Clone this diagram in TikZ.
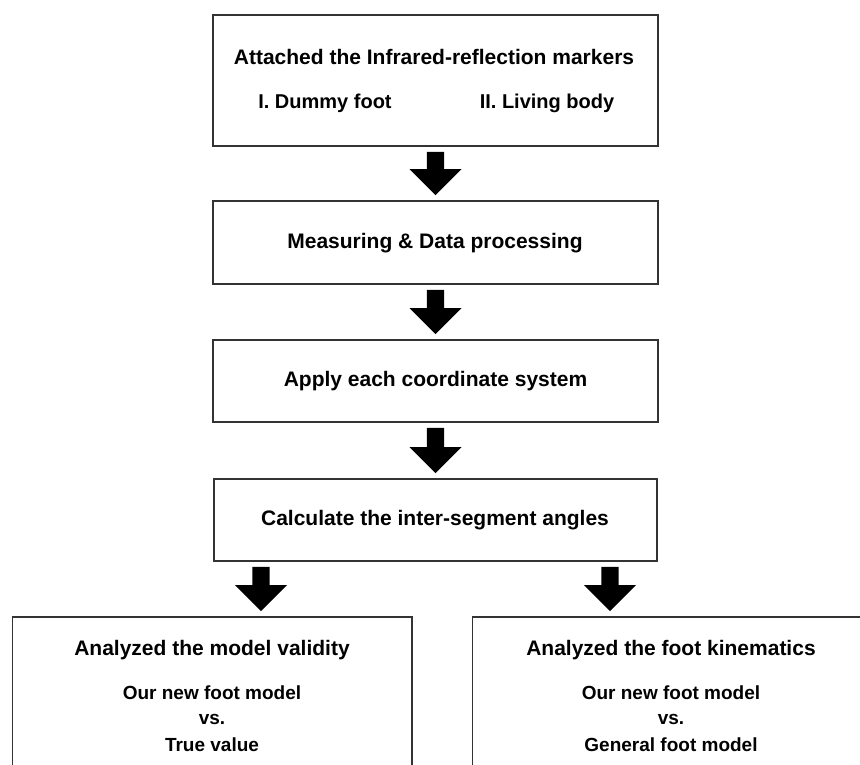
\documentclass[tikz,border=0pt]{standalone}
\usepackage{fontspec}
\setmainfont{Liberation Sans}
\usetikzlibrary{calc}
\tikzset{
  stepbox/.style={draw=black!80, line width=1.6pt, rectangle, inner sep=0pt, fill=none},
  big/.style={font=\bfseries\fontsize{21}{25}\selectfont, inner sep=0pt},
  mid/.style={font=\bfseries\fontsize{20}{24}\selectfont, inner sep=0pt},
  small/.style={font=\bfseries\fontsize{19}{23}\selectfont, inner sep=0pt},
  barrow/.style={fill=black, draw=none, to path={
    let \p1=(\tikztostart), \p2=(\tikztotarget) in
    (\x1-8.7pt,\y1-5pt) -- (\x1+8.7pt,\y1-5pt) -- (\x1+8.7pt,\y2+31pt) --
    (\x1+26pt,\y2+31pt) -- (\x1,\y2+5pt) -- (\x1-26pt,\y2+31pt) --
    (\x1-8.7pt,\y2+31pt) -- cycle}}
}
\begin{document}
\begin{tikzpicture}[x=1pt,y=-1pt]
\useasboundingbox (0,0) rectangle (860,765);
\clip (0,0) rectangle (860,765);
\fill[white] (0,0) rectangle (860,765);

% boxes
\node[stepbox, minimum width=445pt, minimum height=131pt] (b1) at (435.5,80.5) {};
\node[stepbox, minimum width=445pt, minimum height=83pt] (b2) at (435.5,242.5) {};
\node[stepbox, minimum width=445pt, minimum height=82pt] (b3) at (435.5,381) {};
\node[stepbox, minimum width=443pt, minimum height=82pt] (b4) at (435.5,520) {};
\node[stepbox, minimum width=399.5pt, minimum height=183pt] (bl) at (212.25,708.5) {};
\node[stepbox, minimum width=428pt, minimum height=183pt] (br) at (686.3,708.5) {};

% texts
\node[big] (t1) at (434,57) {Attached the Infrared-reflection markers};
\node[mid] (t1a) at (325,103) {I. Dummy foot};
\node[mid] (t1b) at (547,103) {II. Living body};
\node[big] (t2) at (435,243) {Measuring \& Data processing};
\node[big] (t3) at (435.5,381) {Apply each coordinate system};
\node[big] (t4) at (435,520) {Calculate the inter-segment angles};

\node[big] (l1) at (212,650) {Analyzed the model validity};
\node[small] (l2) at (212,693) {Our new foot model};
\node[small] (l3) at (212,719) {vs.};
\node[small] (l4) at (212,745) {True value};

\node[big] (r1) at (671,650) {Analyzed the foot kinematics};
\node[small] (r2) at (671,693) {Our new foot model};
\node[small] (r3) at (671,719) {vs.};
\node[small] (r4) at (671,745) {General foot model};

% arrows
\fill[barrow] (b1.south) to (b2.north);
\fill[barrow] (b2.south) to (b3.north);
\fill[barrow] (b3.south) to (b4.north);
\coordinate (sl) at (261,561);
\coordinate (sr) at (610,561);
\fill[barrow] (b4.south -| sl) to (bl.north -| sl);
\fill[barrow] (b4.south -| sr) to (br.north -| sr);
\end{tikzpicture}
\end{document}
